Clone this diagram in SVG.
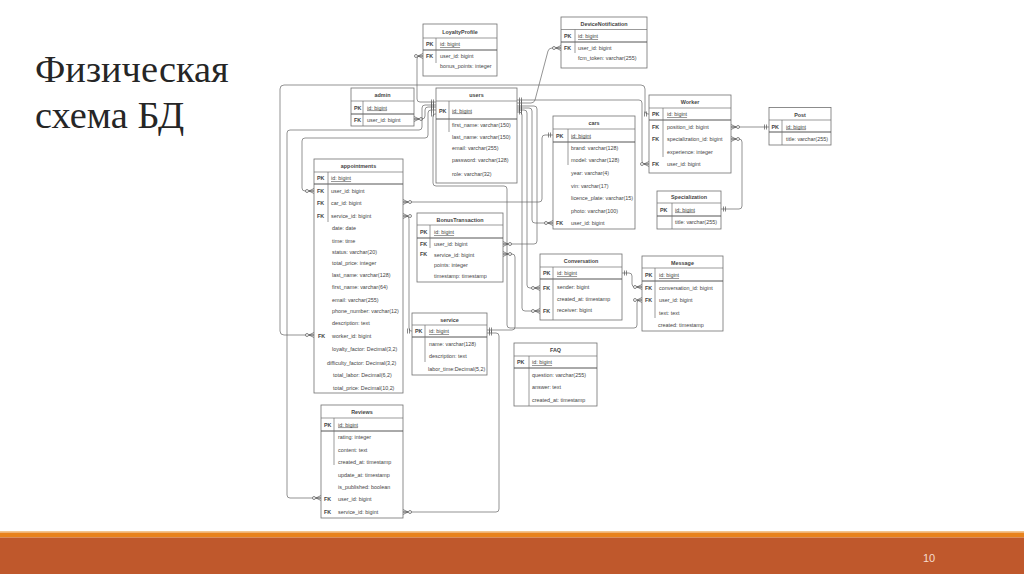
<svg xmlns="http://www.w3.org/2000/svg" width="1024" height="574" viewBox="0 0 1024 574">
<style>
.box{fill:#fff;stroke:#707070;stroke-width:0.8}
.ln{stroke:#707070;stroke-width:0.7}
.pk{stroke:#555;stroke-width:1}
text{font-family:"Liberation Sans",Arial,sans-serif;font-size:5.4px;fill:#444}
.h{font-weight:bold;text-anchor:middle}
.k{font-weight:bold}
.u{text-decoration:underline}
.c{fill:none;stroke:#666;stroke-width:0.7;stroke-linejoin:round}
.title{font-family:"Liberation Serif","Times New Roman",serif;font-size:38.4px;fill:#262626}
.pg{font-family:"Liberation Sans",Arial,sans-serif;font-size:11px;fill:#f6dccd}
</style>
<defs>
<marker id="many" markerUnits="userSpaceOnUse" overflow="visible" refX="0" refY="0" markerWidth="12" markerHeight="8" orient="auto-start-reverse">
<path d="M-5,0 L0,-2.5 M-5,0 L0,0 M-5,0 L0,2.5" fill="none" stroke="#555" stroke-width="0.7"/>
<circle cx="-7" cy="0" r="1.5" fill="#fff" stroke="#555" stroke-width="0.7"/>
</marker>
<marker id="one" markerUnits="userSpaceOnUse" overflow="visible" refX="0" refY="0" markerWidth="8" markerHeight="8" orient="auto">
<path d="M-2.5,-2.5 V2.5 M-4.5,-2.5 V2.5" fill="none" stroke="#555" stroke-width="0.7"/>
</marker>
</defs>
<rect x="0" y="0" width="1024" height="574" fill="#fff"/>
<text class="title" x="35" y="82">Физическая</text>
<text class="title" x="35" y="128">схема БД</text>

<g id="connectors">
<path class="c" d="M423,56 H420 Q417,56 417,59 V99 Q417,102 420,102 H436" marker-start="url(#many)" marker-end="url(#one)"/>
<path class="c" d="M414,119 H422 Q425,119 425,116 V110 Q425,107 428,107 H436" marker-start="url(#many)" marker-end="url(#one)"/>
<path class="c" d="M321,498 H290 Q287,498 287,495 V133 Q287,130 290,130 H419 Q422,130 422,127 V108 Q422,105 425,105 H436" marker-start="url(#many)" marker-end="url(#one)"/>
<path class="c" d="M314,191 H305 Q302,191 302,188 V141 Q302,138 305,138 H425 Q428,138 428,135 V113 Q428,110 431,110 H436" marker-start="url(#many)" marker-end="url(#one)"/>
<path class="c" d="M642,300 H640 Q637,300 637,303 V325 Q637,328 634,328 H510 Q507,328 507,325 V189 Q507,186 504,186 H436 Q433,186 433,183 V116 Q433,114 435,114 H436" marker-start="url(#many)" marker-end="url(#one)"/>
<path class="c" d="M561,48 H552 Q549,48 548,51 L535,100 Q534,103 531,103 H517" marker-start="url(#many)" marker-end="url(#one)"/>
<path class="c" d="M649,164 H645 Q642,164 642,161 V103 Q642,100 639,100 H517" marker-start="url(#many)" marker-end="url(#one)"/>
<path class="c" d="M503,244 H534 Q537,244 537,241 V109 Q537,106 534,106 H517" marker-start="url(#many)" marker-end="url(#one)"/>
<path class="c" d="M553,223 H535 Q532,223 532,220 V111 Q532,108 529,108 H517" marker-start="url(#many)" marker-end="url(#one)"/>
<path class="c" d="M540,288 H530 Q527,288 527,285 V113 Q527,110 524,110 H517" marker-start="url(#many)" marker-end="url(#one)"/>
<path class="c" d="M540,311 H525 Q522,311 522,308 V115 Q522,112 519,112 H517" marker-start="url(#many)" marker-end="url(#one)"/>
<path class="c" d="M314,335 H284 Q280,335 280,331 V89 Q280,85 284,85 H641 Q645,85 645,89 V111 Q645,114 648,114 H649" marker-start="url(#many)" marker-end="url(#one)"/>
<path class="c" d="M403,202 H539 Q542,202 542,199 V138 Q542,135 545,135 H553" marker-start="url(#many)" marker-end="url(#one)"/>
<path class="c" d="M403,216 H406 Q409,216 409,219 V328 Q409,331 411,331 H412" marker-start="url(#many)" marker-end="url(#one)"/>
<path class="c" d="M503,254 H512 Q515,254 515,257 V327 Q515,330 512,330 H487" marker-start="url(#many)" marker-end="url(#one)"/>
<path class="c" d="M403,512 H496 Q499,512 499,509 V336 Q499,333 496,333 H487" marker-start="url(#many)" marker-end="url(#one)"/>
<path class="c" d="M642,287 H635 Q632,287 632,284 V276 Q632,273 629,273 H622" marker-start="url(#many)" marker-end="url(#one)"/>
<path class="c" d="M731,127 H769" marker-start="url(#many)" marker-end="url(#one)"/>
<path class="c" d="M731,139 H739 Q742,139 742,142 V206 Q742,209 739,209 H721" marker-start="url(#many)" marker-end="url(#one)"/>
</g>

<g id="LoyaltyProfile">
<rect class="box" x="423" y="24" width="74" height="52"/>
<line class="ln" x1="423" y1="38" x2="497" y2="38"/>
<line class="pk" x1="423" y1="50" x2="497" y2="50"/>
<line class="ln" x1="436" y1="38" x2="436" y2="63"/>
<text class="h" x="460" y="33.5">LoyaltyProfile</text>
<text class="k" x="426" y="46">PK</text><text class="u" x="440" y="46">id: bigint</text>
<text class="k" x="426" y="58">FK</text><text x="440" y="58">user_id: bigint</text>
<text x="440" y="68">bonus_points: integer</text>
</g>

<g id="admin">
<rect class="box" x="351" y="88" width="63" height="38"/>
<line class="ln" x1="351" y1="101" x2="414" y2="101"/>
<line class="pk" x1="351" y1="114" x2="414" y2="114"/>
<line class="ln" x1="363" y1="101" x2="363" y2="126"/>
<text class="h" x="382.5" y="97">admin</text>
<text class="k" x="354" y="109.5">PK</text><text class="u" x="367" y="109.5">id: bigint</text>
<text class="k" x="354" y="122">FK</text><text x="367" y="122">user_id: bigint</text>
</g>

<g id="users">
<rect class="box" x="436" y="88" width="81" height="95"/>
<line class="ln" x1="436" y1="101" x2="517" y2="101"/>
<line class="pk" x1="436" y1="119" x2="517" y2="119"/>
<line class="ln" x1="449" y1="101" x2="449" y2="132"/>
<text class="h" x="476.5" y="97">users</text>
<text class="k" x="439" y="112.5">PK</text><text class="u" x="452" y="112.5">id: bigint</text>
<text x="452" y="127">first_name: varchar(150)</text>
<text x="452" y="139">last_name: varchar(150)</text>
<text x="452" y="150">email: varchar(255)</text>
<text x="452" y="162">password: varchar(128)</text>
<text x="452" y="176">role: varchar(32)</text>
</g>

<g id="DeviceNotification">
<rect class="box" x="561" y="17" width="86" height="51"/>
<line class="ln" x1="561" y1="29.5" x2="647" y2="29.5"/>
<line class="pk" x1="561" y1="42" x2="647" y2="42"/>
<line class="ln" x1="575" y1="29.5" x2="575" y2="53"/>
<text class="h" x="604" y="25.5">DeviceNotification</text>
<text class="k" x="564" y="38">PK</text><text class="u" x="578" y="38">id: bigint</text>
<text class="k" x="564" y="50">FK</text><text x="578" y="50">user_id: bigint</text>
<text x="578" y="60">fcm_token: varchar(255)</text>
</g>

<g id="Worker">
<rect class="box" x="649" y="95" width="82" height="78"/>
<line class="ln" x1="649" y1="108" x2="731" y2="108"/>
<line class="pk" x1="649" y1="120" x2="731" y2="120"/>
<line class="ln" x1="663" y1="108" x2="663" y2="157"/>
<text class="h" x="690" y="104">Worker</text>
<text class="k" x="652" y="116">PK</text><text class="u" x="667" y="116">id: bigint</text>
<text class="k" x="652" y="129">FK</text><text x="667" y="129">position_id: bigint</text>
<text class="k" x="652" y="141">FK</text><text x="667" y="141">specialization_id: bigint</text>
<text x="667" y="154">experience: integer</text>
<text class="k" x="652" y="166">FK</text><text x="667" y="166">user_id: bigint</text>
</g>

<g id="Post">
<rect class="box" x="769" y="107.5" width="62" height="37.5"/>
<line class="ln" x1="769" y1="120" x2="831" y2="120"/>
<line class="pk" x1="769" y1="132" x2="831" y2="132"/>
<line class="ln" x1="782" y1="120" x2="782" y2="145"/>
<text class="h" x="800" y="116.5">Post</text>
<text class="k" x="771.5" y="128.5">PK</text><text class="u" x="786" y="128.5">id: bigint</text>
<text x="786" y="141">title: varchar(255)</text>
</g>

<g id="cars">
<rect class="box" x="553" y="116" width="82" height="113"/>
<line class="ln" x1="553" y1="129" x2="635" y2="129"/>
<line class="pk" x1="553" y1="142" x2="635" y2="142"/>
<line class="ln" x1="568" y1="129" x2="568" y2="165"/>
<text class="h" x="594" y="125">cars</text>
<text class="k" x="556" y="137.5">PK</text><text class="u" x="571" y="137.5">id: bigint</text>
<text x="571" y="149.5">brand: varchar(128)</text>
<text x="571" y="162">model: varchar(128)</text>
<text x="571" y="175">year: varchar(4)</text>
<text x="571" y="188">vin: varchar(17)</text>
<text x="571" y="200">licence_plate: varchar(15)</text>
<text x="571" y="213">photo: varchar(100)</text>
<text class="k" x="556" y="225">FK</text><text x="571" y="225">user_id: bigint</text>
</g>

<g id="Specialization">
<rect class="box" x="657" y="191" width="64" height="38"/>
<line class="ln" x1="657" y1="203" x2="721" y2="203"/>
<line class="pk" x1="657" y1="216" x2="721" y2="216"/>
<line class="ln" x1="672" y1="203" x2="672" y2="229"/>
<text class="h" x="689" y="199">Specialization</text>
<text class="k" x="660" y="211.5">PK</text><text class="u" x="675" y="211.5">id: bigint</text>
<text x="675" y="224">title: varchar(255)</text>
</g>

<g id="appointments">
<rect class="box" x="314" y="159" width="89" height="234"/>
<line class="ln" x1="314" y1="172" x2="403" y2="172"/>
<line class="pk" x1="314" y1="184" x2="403" y2="184"/>
<line class="ln" x1="328" y1="172" x2="328" y2="222"/>
<text class="h" x="358.5" y="167.5">appointments</text>
<text class="k" x="317" y="180">PK</text><text class="u" x="331" y="180">id: bigint</text>
<text class="k" x="317" y="193">FK</text><text x="331" y="193">user_id: bigint</text>
<text class="k" x="317" y="205">FK</text><text x="331" y="205">car_id: bigint</text>
<text class="k" x="317" y="218">FK</text><text x="331" y="218">service_id: bigint</text>
<text x="332" y="230">date: date</text>
<text x="332" y="243">time: time</text>
<text x="332" y="254">status: varchar(20)</text>
<text x="332" y="264.5">total_price: integer</text>
<text x="332" y="277">last_name: varchar(128)</text>
<text x="332" y="289">first_name: varchar(64)</text>
<text x="332" y="302">email: varchar(255)</text>
<text x="332" y="312.5">phone_number: varchar(12)</text>
<text x="332" y="325">description: text</text>
<text class="k" x="318" y="337.5">FK</text><text x="332" y="337.5">worker_id: bigint</text>
<text x="332" y="351">loyalty_factor: Decimal(3,2)</text>
<text x="327" y="365">difficulty_factor: Decimal(3,2)</text>
<text x="333" y="377">total_labor: Decimal(6,2)</text>
<text x="333" y="390">total_price: Decimal(10,2)</text>
</g>

<g id="BonusTransaction">
<rect class="box" x="417" y="213" width="86" height="69"/>
<line class="ln" x1="417" y1="225" x2="503" y2="225"/>
<line class="pk" x1="417" y1="238" x2="503" y2="238"/>
<line class="ln" x1="430" y1="225" x2="430" y2="248"/>
<text class="h" x="460" y="221.5">BonusTransaction</text>
<text class="k" x="420" y="234">PK</text><text class="u" x="434" y="234">id: bigint</text>
<text class="k" x="420" y="246">FK</text><text x="434" y="246">user_id: bigint</text>
<text class="k" x="420" y="256">FK</text><text x="434" y="256.5">service_id: bigint</text>
<text x="434" y="267">points: integer</text>
<text x="434" y="278">timestamp: timestamp</text>
</g>

<g id="service">
<rect class="box" x="412" y="313" width="75" height="62"/>
<line class="ln" x1="412" y1="325" x2="487" y2="325"/>
<line class="pk" x1="412" y1="337" x2="487" y2="337"/>
<line class="ln" x1="425" y1="325" x2="425" y2="362"/>
<text class="h" x="449.5" y="321.5">service</text>
<text class="k" x="415" y="333">PK</text><text class="u" x="429" y="333">id: bigint</text>
<text x="429" y="346">name: varchar(128)</text>
<text x="429" y="358">description: text</text>
<text x="428" y="370.5">labor_time:Decimal(5,2)</text>
</g>

<g id="Conversation">
<rect class="box" x="540" y="254" width="82" height="66"/>
<line class="ln" x1="540" y1="267" x2="622" y2="267"/>
<line class="pk" x1="540" y1="279" x2="622" y2="279"/>
<line class="ln" x1="553" y1="267" x2="553" y2="320"/>
<text class="h" x="581" y="262.5">Conversation</text>
<text class="k" x="543" y="275">PK</text><text class="u" x="557" y="275">id: bigint</text>
<text class="k" x="543" y="289.5">FK</text><text x="557" y="289">sender: bigint</text>
<text x="557" y="300.5">created_at: timestamp</text>
<text class="k" x="543" y="313">FK</text><text x="557" y="311.5">receiver: bigint</text>
</g>

<g id="Message">
<rect class="box" x="642" y="256" width="81" height="75"/>
<line class="ln" x1="642" y1="268" x2="723" y2="268"/>
<line class="pk" x1="642" y1="281" x2="723" y2="281"/>
<line class="ln" x1="655" y1="268" x2="655" y2="318"/>
<text class="h" x="682.5" y="264.5">Message</text>
<text class="k" x="645" y="277">PK</text><text class="u" x="659" y="277">id: bigint</text>
<text class="k" x="645" y="289.5">FK</text><text x="659" y="289.5">conversation_id: bigint</text>
<text class="k" x="645" y="302">FK</text><text x="659" y="302">user_id: bigint</text>
<text x="659" y="314.5">text: text</text>
<text x="658" y="327">created: timestamp</text>
</g>

<g id="FAQ">
<rect class="box" x="514" y="343" width="83" height="63"/>
<line class="ln" x1="514" y1="356" x2="597" y2="356"/>
<line class="pk" x1="514" y1="368" x2="597" y2="368"/>
<line class="ln" x1="529" y1="356" x2="529" y2="406"/>
<text class="h" x="555.5" y="352">FAQ</text>
<text class="k" x="517" y="364">PK</text><text class="u" x="532" y="364">id: bigint</text>
<text x="532" y="376.5">question: varchar(255)</text>
<text x="532" y="389">answer: text</text>
<text x="532" y="402">created_at: timestamp</text>
</g>

<g id="Reviews">
<rect class="box" x="321" y="405" width="82" height="113"/>
<line class="ln" x1="321" y1="418" x2="403" y2="418"/>
<line class="pk" x1="321" y1="431" x2="403" y2="431"/>
<line class="ln" x1="334" y1="418" x2="334" y2="465"/>
<text class="h" x="362" y="414">Reviews</text>
<text class="k" x="324" y="426.5">PK</text><text class="u" x="338" y="426.5">id: bigint</text>
<text x="338" y="439">rating: integer</text>
<text x="338" y="451.5">content: text</text>
<text x="338" y="464">created_at: timestamp</text>
<text x="338" y="476.5">update_at: timestamp</text>
<text x="338" y="489">is_published: boolean</text>
<text class="k" x="324" y="500.5">FK</text><text x="338" y="500.5">user_id: bigint</text>
<text class="k" x="324" y="514">FK</text><text x="338" y="514">service_id: bigint</text>
</g>

<g id="footer">
<rect x="0" y="531" width="1024" height="1.5" fill="#f4c48e"/>
<rect x="0" y="532.5" width="1024" height="5" fill="#e8821c"/>
<rect x="0" y="537.5" width="1024" height="36.5" fill="#bf582c"/>
<text class="pg" x="929" y="562" text-anchor="middle">10</text>
</g>
</svg>
